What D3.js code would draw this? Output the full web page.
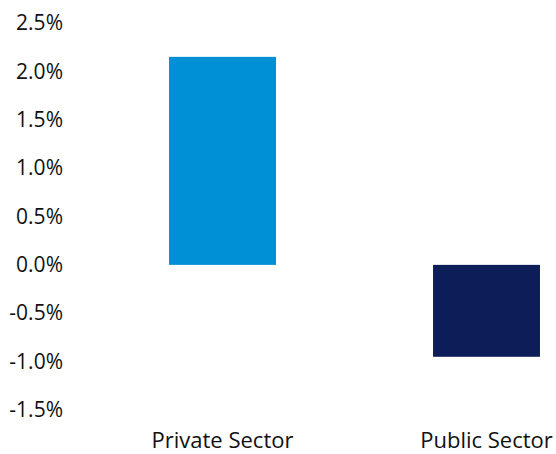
<!DOCTYPE html>
<html>
<head>
<meta charset="utf-8">
<script src="https://cdn.jsdelivr.net/npm/d3@7"></script>
<style>
  body { margin: 0; background: #fff; }
  svg { display: block; }
  text { font-family: "Segoe UI", "Open Sans", "Noto Sans", sans-serif; fill: #111; }
</style>
</head>
<body>
<div id="chart"></div>
<script>
// data
var categories = ["Private Sector", "Public Sector"];
var values = [2.15, -0.95];
var barColors = ["#0090D6", "#0C1D58"];
var yTicks = [2.5, 2.0, 1.5, 1.0, 0.5, 0.0, -0.5, -1.0, -1.5];

var width = 556, height = 454;

var svg = d3.select("#chart").append("svg")
    .attr("width", width)
    .attr("height", height);

// set the ranges
var x = d3.scaleBand()
    .domain(categories)
    .range([90.5, 618.5])
    .paddingInner(0.595)
    .paddingOuter(0.2975);

var y = d3.scaleLinear()
    .domain([-1.5, 2.5])
    .range([410, 23]);

// bars
svg.selectAll(".bar")
    .data(values)
    .enter().append("rect")
    .attr("class", "bar")
    .attr("x", function(d, i) { return x(categories[i]); })
    .attr("width", x.bandwidth())
    .attr("y", function(d) { return y(Math.max(0, d)); })
    .attr("height", function(d) { return Math.abs(y(d) - y(0)); })
    .attr("fill", function(d, i) { return barColors[i]; });

// y axis, labels only
var yAxis = svg.append("g")
    .attr("transform", "translate(72,0)")
    .call(d3.axisLeft(y)
        .tickValues(yTicks)
        .tickSize(0)
        .tickPadding(9)
        .tickFormat(function(d) { return d3.format(".1f")(d).replace("−", "-") + "%"; }));
yAxis.select(".domain").remove();
yAxis.selectAll("text")
    .attr("font-size", 21)
    .attr("font-family", null)
    .style("fill", "#111");

// x axis, labels only
var xAxis = svg.append("g")
    .attr("transform", "translate(0,448)")
    .call(d3.axisBottom(x).tickSize(0).tickPadding(0));
xAxis.select(".domain").remove();
xAxis.selectAll("text")
    .attr("font-size", 22)
    .attr("font-family", null)
    .attr("dy", "0")
    .style("fill", "#111");
</script>
</body>
</html>
